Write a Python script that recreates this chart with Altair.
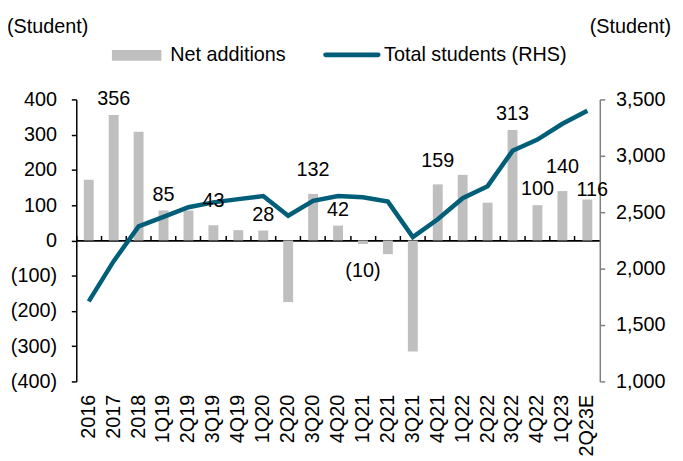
import altair as alt
import pandas as pd

categories = ["2016", "2017", "2018", "1Q19", "2Q19", "3Q19", "4Q19", "1Q20", "2Q20",
              "3Q20", "4Q20", "1Q21", "2Q21", "3Q21", "4Q21", "1Q22", "2Q22", "3Q22",
              "4Q22", "1Q23", "2Q23E"]
net_additions = [172, 356, 308, 85, 85, 43, 29, 28, -175, 132, 42, -10, -39, -315,
                 159, 186, 107, 313, 100, 140, 116]
total_students = [1710, 2066, 2374, 2459, 2544, 2587, 2616, 2644, 2469, 2601, 2643,
                  2633, 2594, 2279, 2438, 2624, 2731, 3044, 3144, 3284, 3400]
labeled = ["2017", "1Q19", "3Q19", "1Q20", "3Q20", "4Q20", "1Q21", "4Q21", "3Q22",
           "4Q22", "1Q23", "2Q23E"]
# label placement groups (as in the reference: some labels sit higher / lower)
raised = ["3Q19", "3Q20", "4Q21", "1Q23"]
lowered = ["2Q23E"]
left_ticks = [-400, -300, -200, -100, 0, 100, 200, 300, 400]
right_ticks = [1000, 1500, 2000, 2500, 3000, 3500]

df = pd.DataFrame({"cat": categories, "net": net_additions, "total": total_students})
df["show"] = df["cat"].isin(labeled)
df["grp"] = ["raised" if c in raised else "lowered" if c in lowered else "normal"
             for c in categories]

FONT = "Liberation Sans"
FS = 20
BAR = "#bfbfbf"
LINE = "#005e78"
W, H = 529, 285

xs = alt.Scale(domain=categories, paddingInner=0, paddingOuter=0)
ys = alt.Scale(domain=[-400, 400], nice=False, zero=False)

base = alt.Chart(df)

bars = base.mark_bar(color=BAR, size=10).encode(
    x=alt.X("cat:N", scale=xs, sort=categories, title=None,
            axis=alt.Axis(labelAngle=270, domain=False, ticks=False, labelPadding=13,
                          labelFontSize=FS, labelColor="black", labelFont=FONT,
                          labelOverlap=False, grid=False)),
    y=alt.Y("net:Q", scale=ys, title=None,
            axis=alt.Axis(values=left_ticks, domainColor="black", domainWidth=1.5,
                          tickColor="black", tickSize=5, tickWidth=1.5, labelPadding=15,
                          labelFontSize=FS, labelColor="black", labelFont=FONT, grid=False,
                          labelExpr="datum.value < 0 ? '(' + format(-datum.value, ',') + ')' : format(datum.value, ',') + '\u00a0'")),
)

zero_axis = base.mark_point(opacity=0).encode(
    x=alt.X("cat:N", scale=xs, sort=categories, title=None,
            axis=alt.Axis(labels=False, offset=-H / 2, bandPosition=0, domainColor="black",
                          domainWidth=1.8, tickColor="black", tickSize=5, tickWidth=1.5,
                          grid=False)),
    y=alt.Y("net:Q", scale=ys, axis=None),
)

lab = base.transform_filter("datum.show").transform_calculate(
    label="datum.net < 0 ? '(' + format(-datum.net, ',') + ')' : format(datum.net, ',')"
)


def label_layer(cond, dy, dx=0):
    return lab.transform_filter(cond).mark_text(
        font=FONT, fontSize=FS, color="black", baseline="middle", dy=dy, dx=dx
    ).encode(
        x=alt.X("cat:N", scale=xs, sort=categories, axis=None),
        y=alt.Y("net:Q", scale=ys, axis=None),
        text="label:N",
    )


labels_norm = label_layer("datum.net >= 0 && datum.grp == 'normal'", -16)
labels_up = label_layer("datum.net >= 0 && datum.grp == 'raised'", -24)
labels_low = label_layer("datum.net >= 0 && datum.grp == 'lowered'", -10, 5)
labels_neg = label_layer("datum.net < 0", 27)

line = base.mark_line(color=LINE, strokeWidth=4.5).encode(
    x=alt.X("cat:N", scale=xs, sort=categories, axis=None),
    y=alt.Y("total:Q", scale=alt.Scale(domain=[1000, 3500], nice=False, zero=False),
            title=None,
            axis=alt.Axis(orient="right", values=right_ticks,
                          labelExpr="format(datum.value, ',')",
                          domainColor="#808080", domainWidth=1.5, tickColor="#808080",
                          tickSize=5, tickWidth=1.5, labelPadding=11, labelFontSize=FS,
                          labelColor="black", labelFont=FONT, grid=False)),
)

one = alt.Data(values=[{"a": 1}])


def txt(s, x, y, align="left"):
    return alt.Chart(one).mark_text(font=FONT, fontSize=FS, color="black",
                                    align=align, baseline="middle").encode(
        x=alt.value(x), y=alt.value(y), text=alt.value(s))


leg_rect = alt.Chart(one).mark_rect(color=BAR).encode(
    x=alt.value(36), x2=alt.value(86), y=alt.value(-50), y2=alt.value(-39))
leg_line = alt.Chart(one).mark_rule(color=LINE, strokeWidth=5, strokeCap="round").encode(
    x=alt.value(252), x2=alt.value(305), y=alt.value(-45))

chart = alt.layer(
    bars, zero_axis, line, labels_norm, labels_up, labels_low, labels_neg,
    leg_rect, txt("Net additions", 95, -45),
    leg_line, txt("Total students (RHS)", 311, -45),
    txt("(Student)", -70, -73), txt("(Student)", 601, -73, align="right"),
).resolve_scale(y="independent").resolve_axis(x="independent", y="independent").properties(
    width=W, height=H,
    autosize=alt.AutoSizeParams(type="none"),
    padding={"left": 69, "top": 90, "right": 76, "bottom": 75},
).configure(
    font=FONT,
    axis=alt.AxisConfig(grid=False),
    view=alt.ViewConfig(stroke=None),
)

chart.save("out.html", embed_options={"renderer": "svg", "actions": False})
